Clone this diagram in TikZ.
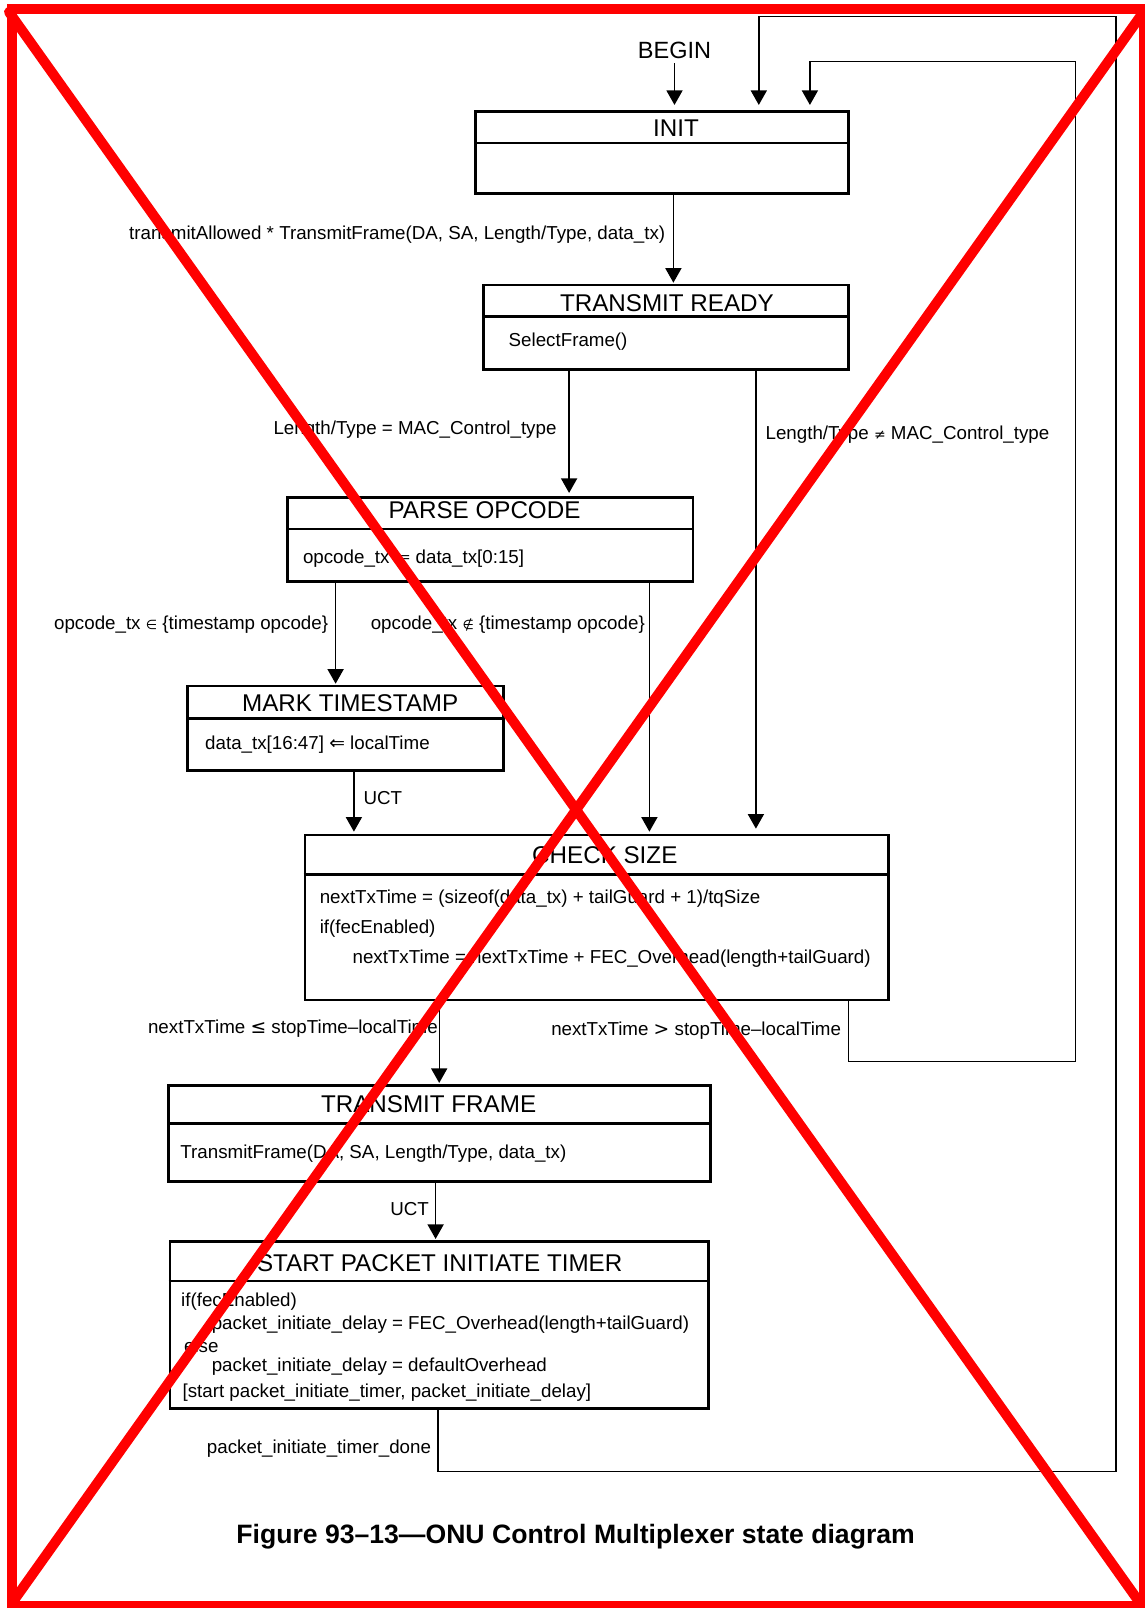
\documentclass[tikz,border=0pt]{standalone}
\usepackage{fontspec}
\setmainfont{Liberation Sans}
\newfontfamily\symfont{DejaVu Sans}
\usetikzlibrary{arrows.meta}

\begin{document}
\begin{tikzpicture}[x=1pt,y=-1pt,
  statebox/.style={draw, line width=2.7pt, inner sep=0pt},
  divider/.style={line width=2.7pt},
  conn/.style={line width=1.4pt},
  arr/.style={conn, -{Triangle[width=16pt,length=14.5pt]}},
  lbl/.style={font=\fontsize{18.75}{22}\selectfont, inner sep=0pt, yshift=-1.5pt},
  ttl/.style={font=\fontsize{24.2}{28}\selectfont, inner sep=0pt},
  redmark/.style={draw=red, line width=10pt},
]
\fill[white] (0,0) rectangle (1144,1608);
\useasboundingbox (0,0) rectangle (1144,1608);

% ---------- states ----------
\node[statebox, minimum width=372.8pt, minimum height=82pt] (init) at (662.1,152.3) {};
\draw[divider] (init.west |- 0,143) -- (init.east |- 0,143);
\node[ttl] (init-title) at (676,127.7) {INIT};

\node[statebox, minimum width=364.8pt, minimum height=84.3pt] (tr) at (666.1,327.2) {};
\draw[divider] (tr.west |- 0,316.7) -- (tr.east |- 0,316.7);
\node[ttl] (tr-title) at (666.9,302.7) {TRANSMIT READY};
\node[lbl, anchor=west] (tr-body) at (508.5,340) {SelectFrame()};

\node[statebox, minimum width=405.6pt, minimum height=84.4pt] (po) at (490.3,539.5) {};
\draw[divider] (po.west |- 0,529) -- (po.east |- 0,529);
\node[ttl] (po-title) at (484.5,510.5) {PARSE OPCODE};
\node[lbl, anchor=west] (po-body) at (302.8,556.7) {opcode\_tx {\symfont ⇐} data\_tx[0:15]};

\node[statebox, minimum width=315.9pt, minimum height=84.7pt] (mt) at (345.5,728.4) {};
\draw[divider] (mt.west |- 0,718.3) -- (mt.east |- 0,718.3);
\node[ttl] (mt-title) at (350.2,702.7) {MARK TIMESTAMP};
\node[lbl, anchor=west] (mt-body) at (205,743.3) {data\_tx[16:47] {\symfont ⇐} localTime};

\node[statebox, minimum width=583.7pt, minimum height=165pt] (cs) at (596.9,917.5) {};
\draw[divider] (cs.west |- 0,874.3) -- (cs.east |- 0,874.3);
\node[ttl] (cs-title) at (604.8,855) {CHECK SIZE};
\node[lbl, anchor=west] (cs-body1) at (319.6,897.3) {nextTxTime = (sizeof(data\_tx) + tailGuard + 1)/tqSize};
\node[lbl, anchor=west] (cs-body2) at (319.6,927.3) {if(fecEnabled)};
\node[lbl, anchor=west] (cs-body3) at (352.4,956.7) {nextTxTime = nextTxTime + FEC\_Overhead(length+tailGuard)};

\node[statebox, minimum width=542.1pt, minimum height=96.4pt] (tf) at (439.6,1133.5) {};
\draw[divider] (tf.west |- 0,1123.3) -- (tf.east |- 0,1123.3);
\node[ttl] (tf-title) at (428.6,1104) {TRANSMIT FRAME};
\node[lbl, anchor=west] (tf-body) at (180.2,1152.3) {TransmitFrame(DA, SA, Length/Type, data\_tx)};

\node[statebox, minimum width=538.4pt, minimum height=167.4pt] (sp) at (439.2,1325) {};
\draw[divider] (sp.west |- 0,1281) -- (sp.east |- 0,1281);
\node[ttl] (sp-title) at (439.7,1263.3) {START PACKET INITIATE TIMER};
\node[lbl, anchor=west] (sp-body1) at (181,1300) {if(fecEnabled)};
\node[lbl, anchor=west] (sp-body2) at (211.6,1323.3) {packet\_initiate\_delay = FEC\_Overhead(length+tailGuard)};
\node[lbl, anchor=west] (sp-body3) at (183.9,1344) {else};
\node[lbl, anchor=west] (sp-body4) at (211.6,1365) {packet\_initiate\_delay = defaultOverhead};
\node[lbl, anchor=west] (sp-body5) at (182.4,1390.7) {[start packet\_initiate\_timer, packet\_initiate\_delay]};

% ---------- entry ----------
\node[font=\fontsize{23.5}{27}\selectfont, inner sep=0pt] (begin) at (674.5,50.5) {BEGIN};
\draw[arr, shorten >=5pt] ([yshift=-4pt]begin.south) -- (begin.south |- init.north);

% ---------- transitions ----------
\draw[arr, shorten >=1pt] (init.south -| 673.4,0) -- (tr.north -| 673.4,0);
\node[lbl, anchor=east] (l-allow) at (665.4,233.3) {transmitAllowed * TransmitFrame(DA, SA, Length/Type, data\_tx)};

\draw[arr, shorten >=3pt] (tr.south -| 569.1,0) -- (po.north -| 569.1,0);
\node[lbl, anchor=east] (l-mac) at (556.7,428.3) {Length/Type = MAC\_Control\_type};

\draw[arr, shorten >=5pt] (tr.south -| 755.9,0) -- (cs.north -| 755.9,0);
\node[lbl, anchor=west] (l-notmac) at (765.4,433.3) {Length/Type {\symfont\fontsize{14}{16}\selectfont ≠} MAC\_Control\_type};

\draw[arr, shorten >=1pt] (po.south -| 335.6,0) -- (mt.north -| 335.6,0);
\node[lbl, anchor=east] (l-ts) at (328.3,622.7) {opcode\_tx {\symfont\fontsize{13}{16}\selectfont ∈} \{timestamp opcode\}};

\draw[arr, shorten >=2pt] (po.south -| 649.4,0) -- (cs.north -| 649.4,0);
\node[lbl, anchor=east] (l-nts) at (645,623.3) {opcode\_tx {\symfont\fontsize{13}{16}\selectfont ∉} \{timestamp opcode\}};

\draw[arr, shorten >=2pt] (mt.south -| 353.9,0) -- (cs.north -| 353.9,0);
\node[lbl, anchor=west] (l-uct1) at (363.3,796.7) {UCT};

\draw[arr, shorten >=1pt] (cs.south -| 439.2,0) -- (tf.north -| 439.2,0);
\node[lbl, anchor=east] (l-le) at (438,1027.3) {nextTxTime {\symfont ≤} stopTime--localTime};

\draw[arr, shorten >=5pt] (cs.south -| 848.5,0) |- (1075.4,1061.7) |- (809.9,61.7) -- (init.north -| 809.9,0);
\node[lbl, anchor=east] (l-gt) at (841.2,1029) {nextTxTime {\symfont >} stopTime--localTime};

\draw[arr, shorten >=1pt] (tf.south -| 435.6,0) -- (sp.north -| 435.6,0);
\node[lbl, anchor=east] (l-uct2) at (429,1207.3) {UCT};

\draw[arr, shorten >=5pt] (sp.south -| 437.8,0) |- (1116,1471.7) |- (758.8,16.7) -- (init.north -| 758.8,0);
\node[lbl, anchor=east] (l-done) at (431.2,1446.7) {packet\_initiate\_timer\_done};

% ---------- caption ----------
\node[font=\bfseries\fontsize{26.6}{30}\selectfont, inner sep=0pt] (caption) at (575.6,1537) {Figure 93--13---ONU Control Multiplexer state diagram};

% ---------- crossed-out overlay ----------
\draw[redmark] (12.3,9.5) rectangle (1144,1606);
\draw[redmark, line cap=round] (9,12) -- (1140,1603);
\draw[redmark, line cap=round] (1142,14) -- (12,1603);
\end{tikzpicture}
\end{document}
